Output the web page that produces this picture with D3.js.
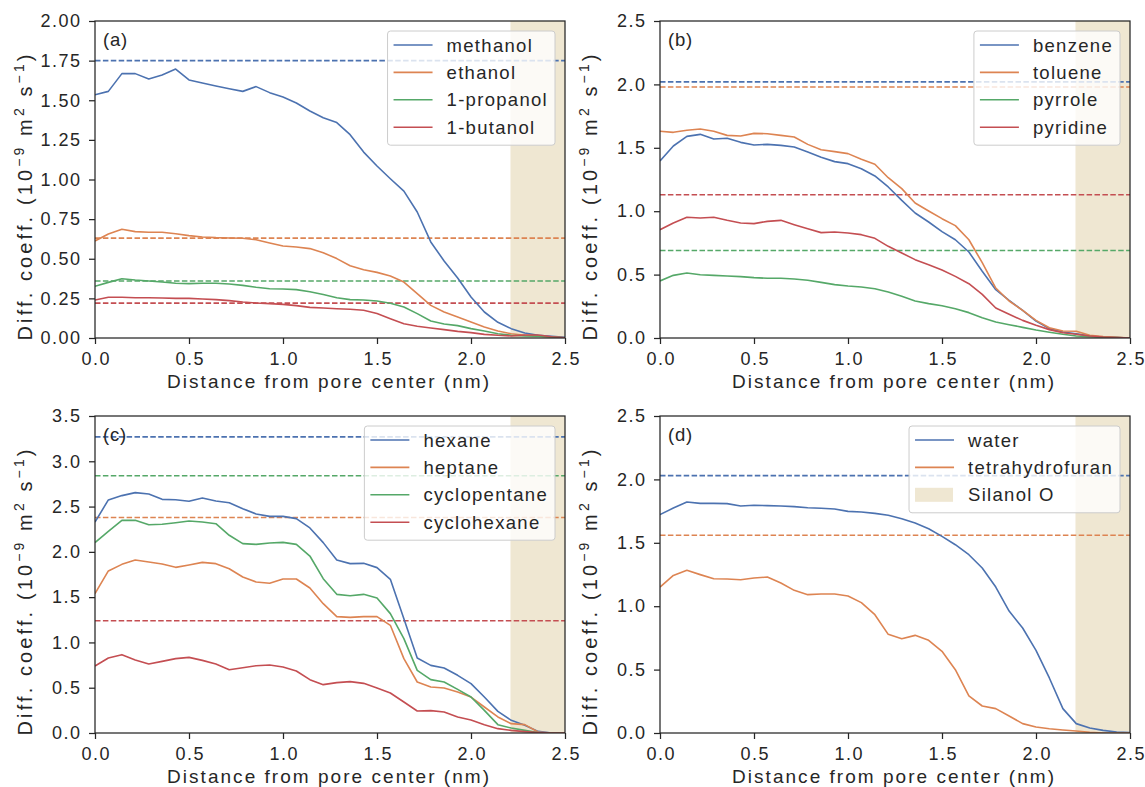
<!DOCTYPE html>
<html>
<head>
<meta charset="utf-8">
<script src="https://cdn.jsdelivr.net/npm/d3@7"></script>
<style>
body { margin: 0; background: #fff; }
text { font-family: "Liberation Sans", Arial, sans-serif; fill: #262626; }
</style>
</head>
<body>
<svg id="chart" width="1145" height="787"></svg>
<script>
// distance from pore center (nm), one point per bin
var distance = [0, 0.071, 0.143, 0.214, 0.286, 0.357, 0.429, 0.5, 0.571, 0.643, 0.714, 0.786,
  0.857, 0.929, 1.0, 1.071, 1.143, 1.214, 1.286, 1.357, 1.429, 1.5, 1.571, 1.643,
  1.714, 1.786, 1.857, 1.929, 2.0, 2.071, 2.143, 2.214, 2.286, 2.357, 2.429, 2.5];

var xTicks = [0, 0.5, 1.0, 1.5, 2.0, 2.5];
var silanolRange = [2.21, 2.5];
var colors = ["#4c72b0", "#dd8452", "#55a868", "#c44e52"];

// (a) alcohols
var alcoholNames = ["methanol", "ethanol", "1-propanol", "1-butanol"];
var methanol = [1.535, 1.556, 1.668, 1.668, 1.634, 1.659, 1.697, 1.628, 1.609, 1.590, 1.573, 1.556,
  1.586, 1.548, 1.520, 1.483, 1.432, 1.390, 1.359, 1.283, 1.173, 1.085, 1.005, 0.927,
  0.795, 0.606, 0.486, 0.379, 0.259, 0.164, 0.099, 0.059, 0.032, 0.017, 0.011, 0.004];
var ethanol = [0.612, 0.656, 0.686, 0.671, 0.667, 0.667, 0.658, 0.646, 0.637, 0.633, 0.631, 0.629,
  0.620, 0.599, 0.580, 0.574, 0.564, 0.538, 0.501, 0.456, 0.431, 0.414, 0.391, 0.353,
  0.280, 0.206, 0.164, 0.132, 0.101, 0.069, 0.044, 0.027, 0.017, 0.013, 0.006, 0.002];
var propanol = [0.326, 0.351, 0.374, 0.366, 0.360, 0.353, 0.345, 0.343, 0.345, 0.345, 0.341, 0.332,
  0.320, 0.311, 0.309, 0.305, 0.292, 0.275, 0.254, 0.242, 0.240, 0.233, 0.219, 0.196,
  0.154, 0.107, 0.088, 0.078, 0.059, 0.044, 0.027, 0.017, 0.013, 0.011, 0.006, 0.002];
var butanol = [0.240, 0.257, 0.257, 0.254, 0.254, 0.252, 0.250, 0.250, 0.246, 0.242, 0.236, 0.227,
  0.221, 0.217, 0.212, 0.204, 0.193, 0.189, 0.185, 0.181, 0.175, 0.154, 0.122, 0.090,
  0.074, 0.063, 0.053, 0.042, 0.034, 0.023, 0.017, 0.013, 0.019, 0.019, 0.008, 0.002];
var alcoholBulk = [1.75, 0.63, 0.36, 0.22];
var ticksA = [0, 0.25, 0.5, 0.75, 1.0, 1.25, 1.5, 1.75, 2.0];

// (b) aromatics
var aromaticNames = ["benzene", "toluene", "pyrrole", "pyridine"];
var benzene = [1.396, 1.514, 1.590, 1.606, 1.569, 1.575, 1.543, 1.522, 1.527, 1.519, 1.506, 1.467,
  1.425, 1.391, 1.375, 1.335, 1.278, 1.191, 1.085, 0.986, 0.915, 0.839, 0.775, 0.678,
  0.526, 0.381, 0.297, 0.218, 0.134, 0.074, 0.047, 0.034, 0.016, 0.008, 0.003, 0];
var toluene = [1.630, 1.622, 1.638, 1.648, 1.630, 1.598, 1.593, 1.614, 1.611, 1.598, 1.585, 1.527,
  1.485, 1.470, 1.454, 1.409, 1.370, 1.264, 1.178, 1.065, 1.002, 0.941, 0.886, 0.775,
  0.594, 0.394, 0.292, 0.218, 0.139, 0.081, 0.055, 0.053, 0.021, 0.011, 0.005, 0];
var pyrrole = [0.450, 0.494, 0.513, 0.499, 0.494, 0.489, 0.484, 0.476, 0.471, 0.471, 0.465, 0.455,
  0.439, 0.421, 0.410, 0.402, 0.389, 0.363, 0.329, 0.292, 0.271, 0.255, 0.231, 0.200,
  0.160, 0.126, 0.105, 0.084, 0.063, 0.045, 0.029, 0.016, 0.011, 0.005, 0.003, 0];
var pyridine = [0.854, 0.907, 0.952, 0.946, 0.952, 0.928, 0.907, 0.902, 0.920, 0.928, 0.894, 0.862,
  0.831, 0.836, 0.828, 0.815, 0.786, 0.723, 0.670, 0.618, 0.578, 0.536, 0.486, 0.428,
  0.344, 0.237, 0.187, 0.139, 0.100, 0.066, 0.042, 0.029, 0.016, 0.008, 0.003, 0];
var aromaticBulk = [2.02, 1.98, 0.69, 1.13];
var ticksB = [0, 0.5, 1.0, 1.5, 2.0, 2.5];

// (c) alkanes
var alkaneNames = ["hexane", "heptane", "cyclopentane", "cyclohexane"];
var hexane = [2.330, 2.573, 2.621, 2.654, 2.639, 2.580, 2.576, 2.558, 2.595, 2.562, 2.543, 2.477,
  2.418, 2.392, 2.392, 2.367, 2.264, 2.102, 1.910, 1.870, 1.873, 1.826, 1.697, 1.262,
  0.828, 0.747, 0.718, 0.637, 0.545, 0.397, 0.239, 0.140, 0.085, 0.018, 0, 0];
var heptane = [1.538, 1.789, 1.862, 1.910, 1.888, 1.866, 1.829, 1.855, 1.884, 1.870, 1.814, 1.722,
  1.667, 1.653, 1.700, 1.700, 1.601, 1.428, 1.285, 1.277, 1.285, 1.285, 1.189, 0.821,
  0.563, 0.508, 0.497, 0.453, 0.397, 0.287, 0.177, 0.103, 0.092, 0.011, 0, 0];
var cyclopentane = [2.102, 2.227, 2.348, 2.348, 2.300, 2.304, 2.322, 2.341, 2.330, 2.311, 2.183, 2.091,
  2.083, 2.098, 2.105, 2.083, 1.954, 1.704, 1.531, 1.516, 1.531, 1.491, 1.318, 1.042,
  0.692, 0.589, 0.563, 0.482, 0.397, 0.250, 0.092, 0.055, 0.029, 0.004, 0, 0];
var cyclohexane = [0.740, 0.828, 0.865, 0.806, 0.762, 0.791, 0.821, 0.835, 0.802, 0.762, 0.699, 0.721,
  0.743, 0.751, 0.729, 0.685, 0.589, 0.534, 0.556, 0.567, 0.548, 0.497, 0.442, 0.342,
  0.243, 0.247, 0.232, 0.177, 0.144, 0.092, 0.048, 0.029, 0.015, 0.004, 0, 0];
var alkaneBulk = [3.27, 2.38, 2.84, 1.24];
var ticksC = [0, 0.5, 1.0, 1.5, 2.0, 2.5, 3.0, 3.5];

// (d) water and THF
var otherNames = ["water", "tetrahydrofuran"];
var water = [1.722, 1.774, 1.822, 1.811, 1.811, 1.809, 1.790, 1.796, 1.793, 1.790, 1.785, 1.777,
  1.772, 1.767, 1.748, 1.743, 1.732, 1.717, 1.690, 1.656, 1.611, 1.551, 1.485, 1.406,
  1.301, 1.151, 0.962, 0.828, 0.652, 0.434, 0.192, 0.074, 0.039, 0.021, 0.008, 0.003];
var thf = [1.151, 1.243, 1.283, 1.249, 1.217, 1.215, 1.209, 1.222, 1.230, 1.183, 1.125, 1.091,
  1.096, 1.096, 1.080, 1.028, 0.933, 0.778, 0.744, 0.770, 0.731, 0.644, 0.499, 0.292,
  0.213, 0.192, 0.134, 0.074, 0.047, 0.034, 0.024, 0.016, 0.005, 0, 0, 0];
var otherBulk = [2.03, 1.56];
var ticksD = [0, 0.5, 1.0, 1.5, 2.0, 2.5];

var panels = [
  {tag: "(a)", names: alcoholNames, series: [methanol, ethanol, propanol, butanol], bulk: alcoholBulk, ticks: ticksA, fmt: ".2f", left: 95, top: 21, silanolLegend: false},
  {tag: "(b)", names: aromaticNames, series: [benzene, toluene, pyrrole, pyridine], bulk: aromaticBulk, ticks: ticksB, fmt: ".1f", left: 660, top: 21, silanolLegend: false},
  {tag: "(c)", names: alkaneNames, series: [hexane, heptane, cyclopentane, cyclohexane], bulk: alkaneBulk, ticks: ticksC, fmt: ".1f", left: 95, top: 416, silanolLegend: false},
  {tag: "(d)", names: otherNames, series: [water, thf], bulk: otherBulk, ticks: ticksD, fmt: ".1f", left: 660, top: 416, silanolLegend: true}
];

var width = 470,
    height = 317,
    bandColor = "#efe7d2",
    ink = "#262626";

var svg = d3.select("#chart");

panels.forEach(function(p, k) {
  var g = svg.append("g")
    .attr("transform", "translate(" + p.left + "," + p.top + ")");

  var x = d3.scaleLinear().domain([0, 2.5]).range([0, width]);
  var y = d3.scaleLinear().domain([0, d3.max(p.ticks)]).range([height, 0]);

  g.append("clipPath").attr("id", "clip" + k)
    .append("rect").attr("width", width).attr("height", height);

  var plot = g.append("g").attr("clip-path", "url(#clip" + k + ")");

  // silanol O region
  plot.append("rect")
    .attr("x", x(silanolRange[0]))
    .attr("width", x(silanolRange[1]) - x(silanolRange[0]))
    .attr("y", 0)
    .attr("height", height)
    .style("fill", bandColor);

  // bulk values, dashed
  p.bulk.forEach(function(b, i) {
    plot.append("line")
      .attr("x1", x(0)).attr("x2", x(2.5))
      .attr("y1", y(b)).attr("y2", y(b))
      .style("stroke", colors[i])
      .style("stroke-width", 1.6)
      .style("stroke-dasharray", "5.5,2.4");
  });

  var line = d3.line()
    .x(function(d, i) { return x(distance[i]); })
    .y(function(d) { return y(d); });

  p.series.forEach(function(s, i) {
    plot.append("path")
      .datum(s)
      .attr("d", line)
      .style("fill", "none")
      .style("stroke", colors[i])
      .style("stroke-width", 1.6)
      .style("stroke-linejoin", "round");
  });

  // axes
  var yAxis = g.append("g")
    .call(d3.axisLeft(y).tickValues(p.ticks).tickFormat(d3.format(p.fmt)).tickSize(6).tickPadding(7.5));
  var xAxis = g.append("g")
    .attr("transform", "translate(0," + height + ")")
    .call(d3.axisBottom(x).tickValues(xTicks).tickFormat(d3.format(".1f")).tickSize(6).tickPadding(8.5));

  [yAxis, xAxis].forEach(function(a) {
    a.select(".domain").remove();
    a.selectAll("line").style("stroke", ink).style("stroke-width", 1.25);
    a.selectAll("text")
      .style("font-size", "18px")
      .style("letter-spacing", "1.5px")
      .style("font-family", "Liberation Sans, Arial, sans-serif")
      .attr("fill", ink);
  });
  xAxis.selectAll("text").attr("dx", "0.75px");

  g.append("rect")
    .attr("width", width).attr("height", height)
    .style("fill", "none")
    .style("stroke", ink)
    .style("stroke-width", 1.25);

  g.append("text")
    .attr("x", 8).attr("y", 25)
    .style("font-size", "18.5px")
    .style("letter-spacing", "0.8px")
    .text(p.tag);

  // axis titles
  g.append("text")
    .attr("x", width / 2 - 2).attr("y", height + 50)
    .attr("text-anchor", "middle")
    .attr("textLength", 322)
    .attr("lengthAdjust", "spacing")
    .style("font-size", "19px")
    .text("Distance from pore center (nm)");

  var yl = g.append("text")
    .attr("transform", "translate(-63," + (height / 2 + 18) + ") rotate(-90)")
    .attr("text-anchor", "middle")
    .attr("textLength", 286)
    .attr("lengthAdjust", "spacing")
    .style("font-size", "20px");
  yl.append("tspan").text("Diff. coeff. (10");
  yl.append("tspan").attr("dy", -8).style("font-size", "14px").text("\u22129");
  yl.append("tspan").attr("dy", 8).text(" m");
  yl.append("tspan").attr("dy", -8).style("font-size", "14px").text("2");
  yl.append("tspan").attr("dy", 8).text(" s");
  yl.append("tspan").attr("dy", -8).style("font-size", "14px").text("\u22121");
  yl.append("tspan").attr("dy", 8).text(")");

  // legend
  var entries = p.names.map(function(n, i) { return {name: n, color: colors[i], patch: false}; });
  if (p.silanolLegend) entries.push({name: "Silanol O", color: bandColor, patch: true});

  var leg = g.append("g");
  var box = leg.append("rect")
    .attr("rx", 3).attr("ry", 3)
    .style("fill", "#fff")
    .style("fill-opacity", 0.8)
    .style("stroke", "#cccccc")
    .style("stroke-width", 1);

  var rowGap = 27.4, maxW = 0;
  var items = leg.selectAll("g.item")
    .data(entries)
    .enter()
    .append("g")
      .attr("class", "item")
      .attr("transform", function(d, i) { return "translate(0," + (14 + i * rowGap) + ")"; });

  items.each(function(d) {
    var it = d3.select(this);
    if (d.patch) {
      it.append("rect")
        .attr("x", 6).attr("y", -7).attr("width", 38).attr("height", 14)
        .style("fill", d.color);
    } else {
      it.append("line")
        .attr("x1", 6).attr("x2", 45).attr("y1", 0).attr("y2", 0)
        .style("stroke", d.color)
        .style("stroke-width", 1.6);
    }
    var t = it.append("text")
      .attr("x", 59).attr("y", 6.5)
      .style("font-size", "18.5px")
      .style("letter-spacing", "1.3px")
      .text(d.name);
    maxW = Math.max(maxW, t.node().getComputedTextLength());
  });

  var boxW = 59 + maxW + 7,
      boxH = 14 + (entries.length - 1) * rowGap + 18;
  box.attr("width", boxW).attr("height", boxH);
  leg.attr("transform", "translate(" + (width - 10 - boxW) + ",10)");
});
</script>
</body>
</html>
